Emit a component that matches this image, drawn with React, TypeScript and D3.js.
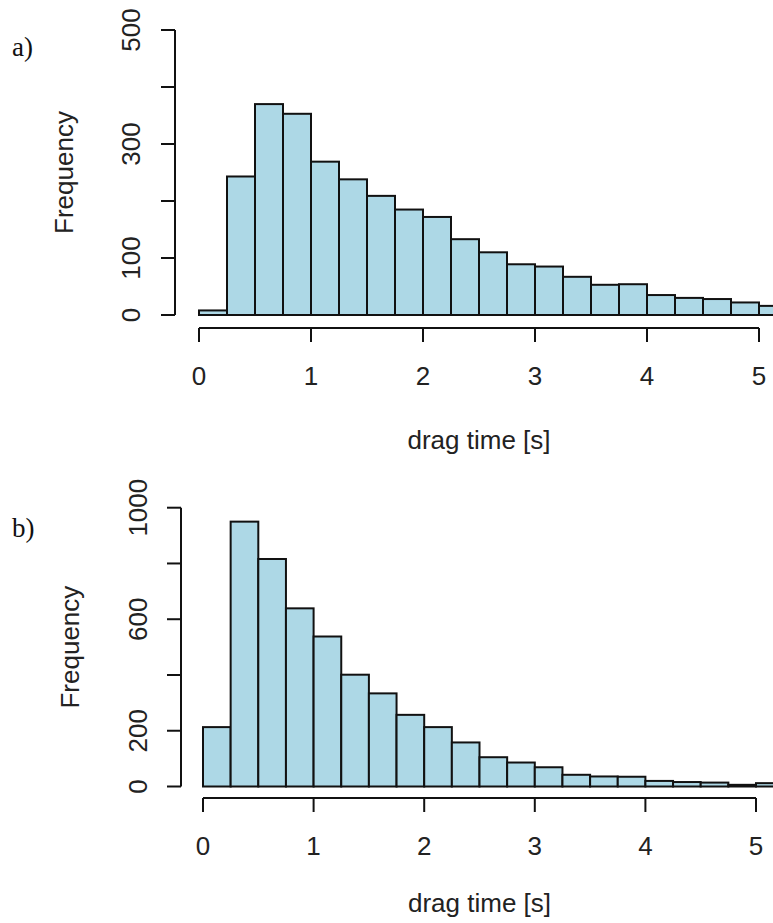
import React from "react";
import * as d3 from "d3";

// bin edges: 0, 0.25, ..., 5.25
const binWidth = 0.25;
const countsA = [8, 243, 370, 353, 269, 238, 209, 185, 172, 133, 110, 89, 85, 67, 53, 54, 35, 30, 28, 22, 16];
const countsB = [213, 950, 816, 639, 538, 401, 334, 257, 213, 158, 105, 86, 69, 42, 36, 35, 20, 16, 14, 6, 12];
const xTicks = [0, 1, 2, 3, 4, 5];
const yTicksA = [0, 100, 200, 300, 400, 500];
const yLabelsA = [0, 100, 300, 500];
const yTicksB = [0, 200, 400, 600, 800, 1000];
const yLabelsB = [0, 200, 600, 1000];
const xLabel = "drag time [s]";
const yLabel = "Frequency";

const FONT = "'Liberation Sans', Arial, sans-serif";
const SERIF = "'Liberation Serif', 'Times New Roman', serif";

type PanelProps = {
  counts: number[];
  yTicks: number[];
  yLabels: number[];
  yMax: number;
  x0: number; x5: number;
  yBase: number; yTop: number;
  axisX: number; xAxisY: number;
  yTickLabelX: number; yTitleX: number;
  xTitleOffset: number;
  tag: string; tagY: number;
};

function Panel(p: PanelProps) {
  const x = d3.scaleLinear().domain([0, 5]).range([p.x0, p.x5]);
  const y = d3.scaleLinear().domain([0, p.yMax]).range([p.yBase, p.yTop]);
  const tickLen = 14;
  const yMid = (p.yBase + p.yTop) / 2;
  return (
    <g>
      <text x={12} y={p.tagY} fontFamily={SERIF} fontSize={27} fill="#111">{p.tag}</text>
      {p.counts.map((c, i) => {
        const a = x(i * binWidth);
        const b = x((i + 1) * binWidth);
        return (
          <rect key={i} x={a} y={y(c)} width={b - a} height={y(0) - y(c)}
            fill="#add8e6" stroke="#111" strokeWidth={2} />
        );
      })}
      {/* y axis */}
      <line x1={p.axisX} x2={p.axisX} y1={y(0)} y2={y(p.yMax)} stroke="#111" strokeWidth={2} />
      {p.yTicks.map((t) => (
        <line key={t} x1={p.axisX - tickLen} x2={p.axisX} y1={y(t)} y2={y(t)} stroke="#111" strokeWidth={2} />
      ))}
      {p.yLabels.map((t) => (
        <text key={t} transform={`translate(${p.yTickLabelX},${y(t)}) rotate(-90)`} textAnchor="middle"
          fontFamily={FONT} fontSize={26} fill="#222">{t}</text>
      ))}
      <text transform={`translate(${p.yTitleX},${yMid}) rotate(-90)`} textAnchor="middle"
        fontFamily={FONT} fontSize={26} fill="#222">{yLabel}</text>
      {/* x axis */}
      <line x1={x(0)} x2={x(5)} y1={p.xAxisY} y2={p.xAxisY} stroke="#111" strokeWidth={2} />
      {xTicks.map((t) => (
        <g key={t}>
          <line x1={x(t)} x2={x(t)} y1={p.xAxisY} y2={p.xAxisY + tickLen} stroke="#111" strokeWidth={2} />
          <text x={x(t)} y={p.xAxisY + 57} textAnchor="middle" fontFamily={FONT} fontSize={26} fill="#222">{t}</text>
        </g>
      ))}
      <text x={(x(0) + x(5)) / 2} y={p.xAxisY + p.xTitleOffset} textAnchor="middle" fontFamily={FONT} fontSize={26} fill="#222">{xLabel}</text>
    </g>
  );
}

export default function App() {
  return (
    <svg width={773} height={923} viewBox="0 0 773 923"
      style={{ position: "absolute", left: 0, top: 0, display: "block", background: "#fff" }}>
      <Panel counts={countsA} yTicks={yTicksA} yLabels={yLabelsA} yMax={500}
        x0={199} x5={759} yBase={315} yTop={30} axisX={175} xAxisY={328}
        yTickLabelX={140} yTitleX={73} xTitleOffset={121} tag="a)" tagY={56} />
      <Panel counts={countsB} yTicks={yTicksB} yLabels={yLabelsB} yMax={1000}
        x0={203} x5={756} yBase={786.5} yTop={507.7} axisX={181} xAxisY={798}
        yTickLabelX={147} yTitleX={79} xTitleOffset={114} tag="b)" tagY={537} />
    </svg>
  );
}
